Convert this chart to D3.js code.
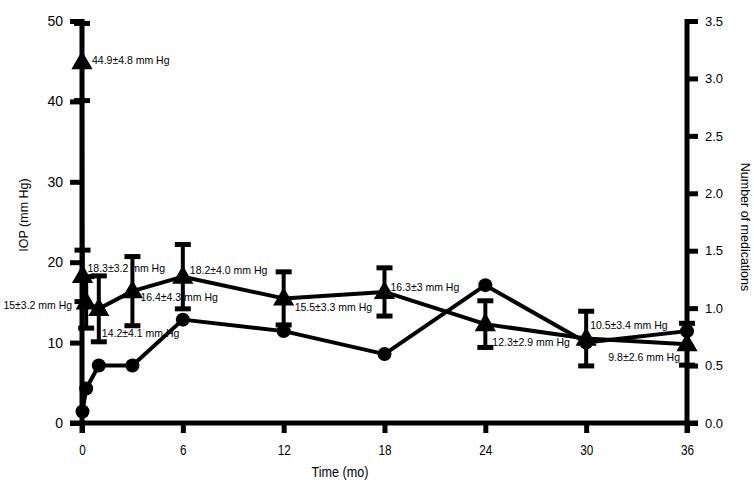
<!DOCTYPE html>
<html>
<head>
<meta charset="utf-8">
<script src="https://cdn.jsdelivr.net/npm/d3@7"></script>
<style>
  html, body { margin: 0; padding: 0; background: #fff; }
  svg { display: block; }
  text { font-family: "Liberation Sans", Arial, sans-serif; fill: #000; }
</style>
</head>
<body>
<svg id="chart" width="754" height="485"></svg>
<script>
// ---- data ----
const iopTime  = [0, 0.03, 0.25, 1, 3, 6, 12, 18, 24, 30, 36];
const iopMean  = [44.9, 18.3, 15, 14.2, 16.4, 18.2, 15.5, 16.3, 12.3, 10.5, 9.8];
const iopSD    = [4.8, 3.2, 3.2, 4.1, 4.3, 4.0, 3.3, 3, 2.9, 3.4, 2.6];
const iopLabel = ["44.9±4.8 mm Hg", "18.3±3.2 mm Hg", "15±3.2 mm Hg", "14.2±4.1 mm Hg",
                  "16.4±4.3 mm Hg", "18.2±4.0 mm Hg", "15.5±3.3 mm Hg", "16.3±3 mm Hg",
                  "12.3±2.9 mm Hg", "10.5±3.4 mm Hg", "9.8±2.6 mm Hg"];
const medTime  = [0.03, 0.25, 1, 3, 6, 12, 18, 24, 30, 36];
const medCount = [0.1, 0.3, 0.5, 0.5, 0.9, 0.8, 0.6, 1.2, 0.7, 0.8];
const xTicks   = [0, 6, 12, 18, 24, 30, 36];
const yTicks   = [0, 10, 20, 30, 40, 50];
const y2Ticks  = [0, 0.5, 1.0, 1.5, 2.0, 2.5, 3.0, 3.5];

// ---- layout (label offsets in px, relative to each point) ----
const labelOffset = [[10, 2, "start"], [5, -4, "start"], [-14, 7, "end"], [3, 28, "start"],
                     [8, 10, "start"], [7, -3, "start"], [11, 13, "start"], [6, -1, "start"],
                     [7, 22, "start"], [4, -10, "start"], [-7, 17, "end"]];

const svg = d3.select("#chart");
const L = 82, R = 687, T = 21, B = 423;

const x  = d3.scaleLinear().domain([0, 36]).range([L, R]);
const y  = d3.scaleLinear().domain([0, 50]).range([B, T]);
const y2 = d3.scaleLinear().domain([0, 3.5]).range([B, T]);

// axes
function styleAxis(g, size) {
  g.select(".domain").attr("stroke", "#000").attr("stroke-width", 5);
  g.selectAll(".tick line").attr("stroke", "#000").attr("stroke-width", 5);
  g.selectAll(".tick text").attr("font-family", "'Liberation Sans', Arial").attr("font-size", size).attr("fill", "#000");
}
const gx = svg.append("g").attr("transform", `translate(0,${B})`)
  .call(d3.axisBottom(x).tickValues(xTicks).tickSize(10).tickSizeOuter(0).tickPadding(12));
styleAxis(gx, 14);
gx.selectAll(".tick text").attr("transform", "scale(0.84,1)");
gx.select(".domain").attr("d", `M${L - 12},0H${R + 11}`);

const gy = svg.append("g").attr("transform", `translate(${L},0)`)
  .call(d3.axisLeft(y).tickValues(yTicks).tickSize(12).tickSizeOuter(0).tickPadding(7));
styleAxis(gy, 14);
gy.select(".domain").attr("d", `M0,${T - 2}V${B + 10}`);

const gy2 = svg.append("g").attr("transform", `translate(${R},0)`)
  .call(d3.axisRight(y2).tickValues(y2Ticks).tickSize(11).tickSizeOuter(0).tickPadding(7)
  .tickFormat(d3.format(".1f")));
styleAxis(gy2, 13);
gy2.select(".domain").attr("d", `M0,${T - 2}V${B + 10}`);

// axis titles
svg.append("text").attr("transform", `translate(340,477) scale(0.84,1)`)
  .attr("text-anchor", "middle").attr("font-size", 15)
  .text("Time (mo)");
svg.append("text").attr("transform", `translate(28,${(T + B) / 2 - 7}) rotate(-90)`)
  .attr("text-anchor", "middle").attr("font-size", 12.5).text("IOP (mm Hg)");
svg.append("text").attr("transform", `translate(741,${(T + B) / 2 + 5}) rotate(90)`)
  .attr("text-anchor", "middle").attr("font-size", 12.5).text("Number of medications");

// series
const iop = iopTime.map((t, i) => ({ t, m: iopMean[i], s: iopSD[i], label: iopLabel[i], off: labelOffset[i] }));
const med = medTime.map((t, i) => ({ t, v: medCount[i] }));

// lines
svg.append("path").datum(med)
  .attr("fill", "none").attr("stroke", "#000").attr("stroke-width", 4).attr("stroke-linejoin", "round")
  .attr("d", d3.line().x(d => x(d.t)).y(d => y2(d.v)));
svg.append("path").datum(iop)
  .attr("fill", "none").attr("stroke", "#000").attr("stroke-width", 4).attr("stroke-linejoin", "round")
  .attr("d", d3.line().x(d => x(d.t)).y(d => y(d.m)));

// error bars
const eb = svg.append("g");
iop.forEach(d => {
  const cx = x(d.t);
  eb.append("line").attr("x1", cx).attr("x2", cx).attr("y1", y(d.m + d.s)).attr("y2", y(d.m - d.s))
    .attr("stroke", "#000").attr("stroke-width", 4);
  [d.m + d.s, d.m - d.s].forEach(v => {
    eb.append("line").attr("x1", cx - 8).attr("x2", cx + 8).attr("y1", y(v)).attr("y2", y(v))
      .attr("stroke", "#000").attr("stroke-width", 5);
  });
});

// markers
svg.append("g").selectAll("circle").data(med).join("circle")
  .attr("cx", d => x(d.t)).attr("cy", d => y2(d.v)).attr("r", 7).attr("fill", "#000");
svg.append("g").selectAll("path").data(iop).join("path")
  .attr("transform", d => `translate(${x(d.t)},${y(d.m) + 1})`)
  .attr("d", d3.symbol(d3.symbolTriangle, 195)).attr("fill", "#000");

// labels
svg.append("g").selectAll("text").data(iop).join("text")
  .attr("x", d => x(d.t) + d.off[0]).attr("y", d => y(d.m) + d.off[1])
  .attr("text-anchor", d => d.off[2])
  .attr("font-size", 10.5)
  .text(d => d.label);
</script>
</body>
</html>
